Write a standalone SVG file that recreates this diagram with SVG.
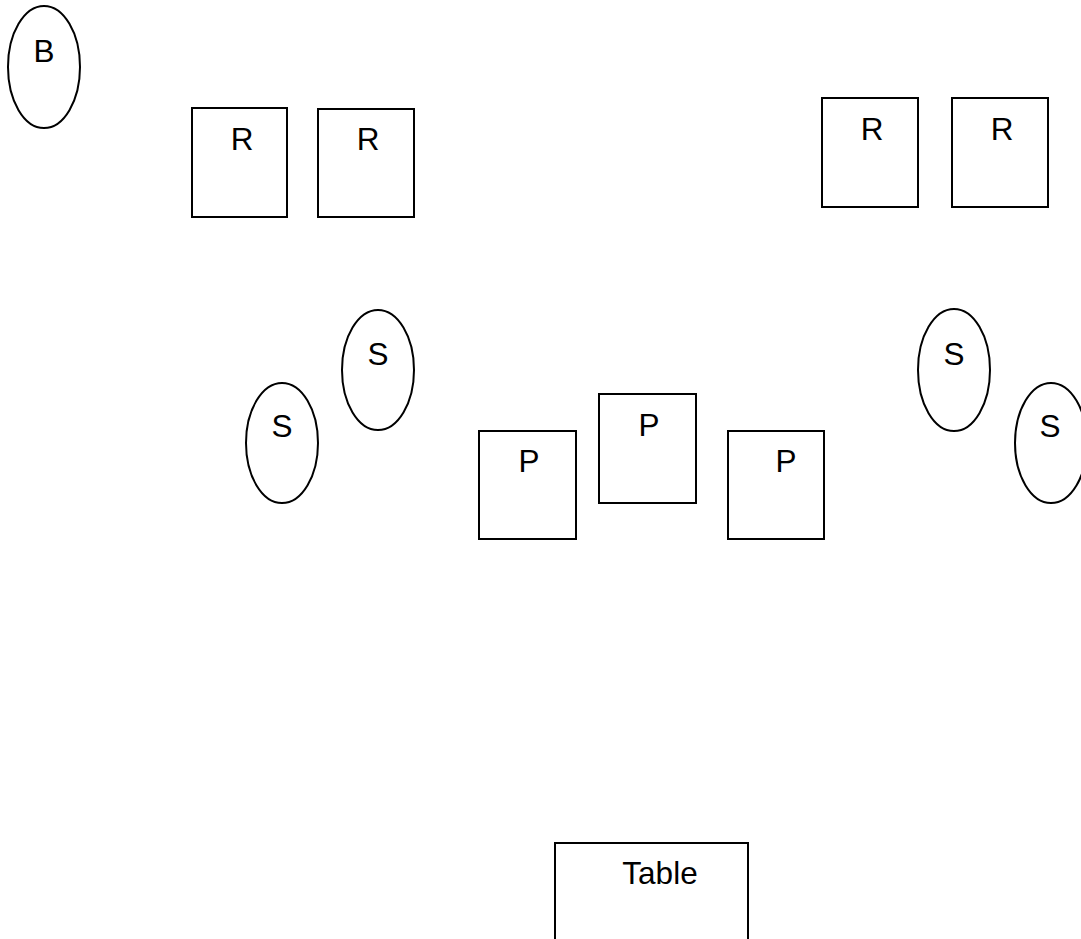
<svg xmlns="http://www.w3.org/2000/svg" width="1081" height="939" viewBox="0 0 1081 939">
<style>
.shape{fill:#fff;stroke:#000;stroke-width:2}
.lbl{font-family:"Liberation Sans",Arial,sans-serif;font-size:31.5px;fill:#000;text-anchor:middle}
</style>
<rect width="1081" height="939" fill="#fff"/>
<g id="connectors"></g>
<g id="B1"><ellipse class="shape" cx="44" cy="67" rx="36" ry="61"/><text class="lbl" x="44" y="62">B</text></g>
<g id="R1"><rect class="shape" x="192" y="108" width="95" height="109"/><text class="lbl" x="242" y="150">R</text></g>
<g id="R2"><rect class="shape" x="318" y="109" width="96" height="108"/><text class="lbl" x="368" y="150">R</text></g>
<g id="R3"><rect class="shape" x="822" y="98" width="96" height="109"/><text class="lbl" x="872" y="140">R</text></g>
<g id="R4"><rect class="shape" x="952" y="98" width="96" height="109"/><text class="lbl" x="1002" y="140">R</text></g>
<g id="S1"><ellipse class="shape" cx="378" cy="370" rx="36" ry="60"/><text class="lbl" x="378" y="365">S</text></g>
<g id="S2"><ellipse class="shape" cx="282" cy="443" rx="36" ry="60"/><text class="lbl" x="282" y="437">S</text></g>
<g id="S3"><ellipse class="shape" cx="954" cy="370" rx="36" ry="61"/><text class="lbl" x="954" y="365">S</text></g>
<g id="S4"><ellipse class="shape" cx="1051" cy="443" rx="36" ry="60"/><text class="lbl" x="1050" y="437">S</text></g>
<g id="P1"><rect class="shape" x="479" y="431" width="97" height="108"/><text class="lbl" x="529" y="472">P</text></g>
<g id="P2"><rect class="shape" x="599" y="394" width="97" height="109"/><text class="lbl" x="649" y="436">P</text></g>
<g id="P3"><rect class="shape" x="728" y="431" width="96" height="108"/><text class="lbl" x="786" y="472">P</text></g>
<g id="Table"><rect class="shape" x="555" y="843" width="193" height="100"/><text class="lbl" x="660" y="884">Table</text></g>
</svg>
